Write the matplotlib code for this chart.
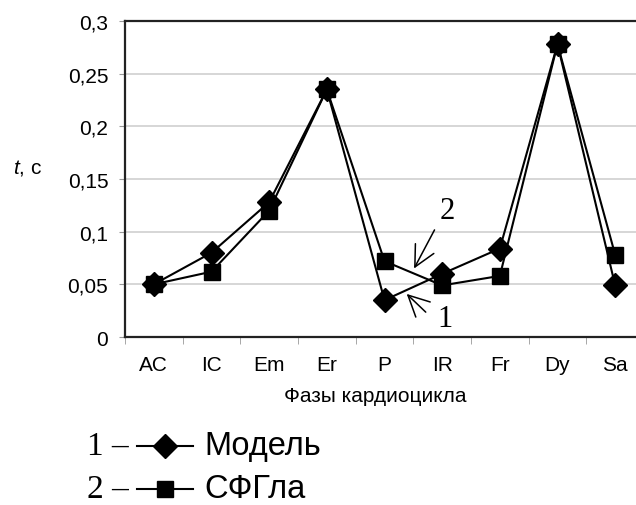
import matplotlib
matplotlib.use("Agg")
import matplotlib.pyplot as plt
from matplotlib.lines import Line2D
import numpy as np

categories = ["AC", "IC", "Em", "Er", "P", "IR", "Fr", "Dy", "Sa"]
model = [0.050, 0.080, 0.128, 0.235, 0.035, 0.060, 0.084, 0.278, 0.049]
sfgla = [0.050, 0.062, 0.120, 0.235, 0.072, 0.049, 0.058, 0.278, 0.078]
yticks = [0, 0.05, 0.1, 0.15, 0.2, 0.25, 0.3]
ytick_labels = ["0", "0,05", "0,1", "0,15", "0,2", "0,25", "0,3"]

plt.rcParams['font.family'] = ['Liberation Sans', 'DejaVu Sans']
plt.rcParams['mathtext.fontset'] = 'custom'
plt.rcParams['mathtext.it'] = 'Liberation Sans:italic'
plt.rcParams['mathtext.rm'] = 'Liberation Sans'

W, H = 636, 506
fig = plt.figure(figsize=(W / 100, H / 100), dpi=100)
x0, x1, ytop, ybot = 125, 644, 22, 338
ax = fig.add_axes([x0 / W, 1 - ybot / H, (x1 - x0) / W, (ybot - ytop) / H])

x = np.arange(len(categories))
ax.plot(x, sfgla, color='black', lw=1.5, marker='s', ms=11, zorder=3)
ax.plot(x, model, color='black', lw=1.5, marker='D', ms=12.5, zorder=4)

ax.set_xlim(-0.5, len(categories) - 0.5)
ax.set_ylim(0, 0.3)
ax.set_yticks(yticks)
ax.set_yticklabels(ytick_labels, fontsize=15)
ax.set_xticks(x)
ax.set_xticklabels(categories, fontsize=15)
ax.set_xticks(np.arange(len(categories) + 1) - 0.5, minor=True)
ax.tick_params(axis='x', which='major', length=0, pad=13)
ax.tick_params(axis='x', which='minor', length=5, color='#999999', direction='out')
ax.tick_params(axis='y', which='major', length=4, color='#999999', pad=8)
ax.grid(axis='y', color='#cfcfcf', lw=1.2)
ax.set_axisbelow(True)
for s in ['top', 'left', 'bottom']:
    ax.spines[s].set_color('#222222')
    ax.spines[s].set_linewidth(1.6)
ax.spines['right'].set_visible(False)

# annotations
arrow_style = dict(arrowstyle='->,head_length=1.5,head_width=0.75', color='black', lw=1.1)
ax.annotate("", xy=(4.49, 0.0627), xytext=(4.89, 0.104), arrowprops=arrow_style)
ax.text(5.08, 0.120, "2", family='Liberation Serif', fontsize=22, ha='center', va='center')
ax.annotate("", xy=(4.35, 0.0427), xytext=(4.75, 0.0218), arrowprops=arrow_style)
ax.text(5.05, 0.018, "1", family='Liberation Serif', fontsize=22, ha='center', va='center')

fig.text(28 / W, 1 - 168 / H, "$t$, с", fontsize=15, ha='center', va='center')
fig.text(375 / W, 1 - 396 / H, "Фазы кардиоцикла", fontsize=15, ha='center', va='center')

# legend
legend_items = [("1", "Модель", 'D', 12.5, 447), ("2", "СФГла", 's', 11, 490)]
for num, label, mk, ms, yp in legend_items:
    yf = 1 - yp / H
    fig.text(87 / W, yf, num + " –", family='Liberation Serif', fontsize=24, ha='left', va='center')
    fig.add_artist(Line2D([137 / W, 165 / W, 193 / W], [yf, yf, yf], color='black', lw=1.5,
                          marker=mk, ms=ms, markevery=[1], transform=fig.transFigure))
    fig.text(204 / W, yf, label, fontsize=23.5, ha='left', va='center')

fig.savefig("out.png", dpi=100)
